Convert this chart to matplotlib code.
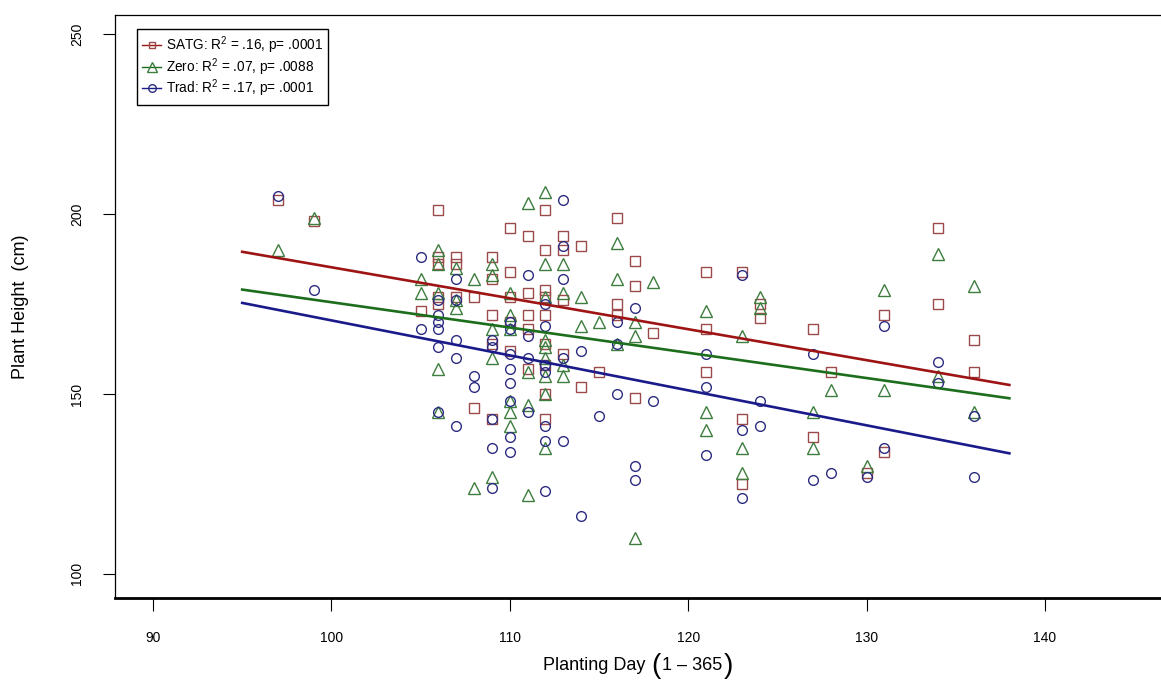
import matplotlib
matplotlib.use('Agg')
import matplotlib.pyplot as plt
from matplotlib.offsetbox import TextArea, HPacker, AnchoredOffsetbox

plt.rcParams['font.family'] = ['Liberation Sans', 'DejaVu Sans']
plt.rcParams['mathtext.fontset'] = 'custom'
plt.rcParams['mathtext.rm'] = 'Liberation Sans'
plt.rcParams['mathtext.it'] = 'Liberation Sans:italic'

# planting day -> plant heights
satg = {
    97: [204], 99: [198], 105: [173],
    106: [201, 188, 186, 177, 175], 107: [188, 186, 177], 108: [177, 146],
    109: [188, 182, 172, 164, 143], 110: [196, 184, 177, 170, 162],
    111: [194, 178, 172, 168, 157],
    112: [201, 190, 179, 177, 172, 164, 158, 150, 143],
    113: [194, 190, 176, 161], 114: [191, 152], 115: [156],
    116: [199, 175, 172], 117: [187, 180, 149], 118: [167],
    121: [184, 168, 156], 123: [184, 143, 125], 124: [175, 171],
    127: [168, 138], 128: [156], 130: [128], 131: [172, 134],
    134: [196, 175], 136: [165, 156],
}
zero = {
    97: [190], 99: [199], 105: [182, 178],
    106: [190, 186, 178, 157, 145], 107: [185, 176, 174], 108: [182, 124],
    109: [186, 183, 168, 160, 127], 110: [178, 172, 168, 148, 145, 141],
    111: [203, 156, 147, 122],
    112: [206, 186, 177, 165, 163, 160, 155, 150, 135],
    113: [186, 178, 158, 155], 114: [177, 169], 115: [170],
    116: [192, 182, 164], 117: [170, 166, 110], 118: [181],
    121: [173, 145, 140], 123: [166, 135, 128], 124: [177, 174],
    127: [145, 135], 128: [151], 130: [130], 131: [179, 151],
    134: [189, 155], 136: [180, 145],
}
trad = {
    97: [205], 99: [179], 105: [188, 168],
    106: [176, 172, 170, 168, 163, 145], 107: [182, 176, 165, 160, 141],
    108: [155, 152], 109: [165, 163, 143, 135, 124],
    110: [170, 168, 161, 157, 153, 148, 138, 134],
    111: [183, 166, 160, 145], 112: [175, 169, 158, 156, 141, 137, 123],
    113: [204, 191, 182, 160, 137], 114: [162, 116], 115: [144],
    116: [170, 164, 150], 117: [174, 130, 126], 118: [148],
    121: [161, 152, 133], 123: [183, 140, 121], 124: [148, 141],
    127: [161, 126], 128: [128], 130: [127], 131: [169, 135],
    134: [159, 153], 136: [144, 127],
}

# fitted lines (end points)
fit_x = [95, 138]
fit_satg = [189.5, 152.5]
fit_zero = [179.0, 148.8]
fit_trad = [175.3, 133.5]

labels = [r'SATG: R$^2$ = .16, p= .0001',
          r'Zero: R$^2$ = .07, p= .0088',
          r'Trad: R$^2$ = .17, p= .0001']


def flat(d):
    xs, ys = [], []
    for k, v in d.items():
        for h in v:
            xs.append(k)
            ys.append(h)
    return xs, ys


fig = plt.figure(figsize=(11.61, 6.88), dpi=100)
ax = fig.add_axes([115 / 1161, 1 - 598 / 688, 1046 / 1161, 583 / 688])

pt_cols = ['#9a4a4a', '#3d7d3d', '#2c2c82']
ln_cols = ['#9e1414', '#1c6e1c', '#1a1a8a']
markers = ['s', '^', 'o']
sizes = [6.5, 8, 7]

for d, c, m, s in zip([satg, zero, trad], pt_cols, markers, sizes):
    xs, ys = flat(d)
    ax.plot(xs, ys, linestyle='none', marker=m, ms=s, mfc='none',
            mec=c, mew=1.0)

for fy, c in zip([fit_satg, fit_zero, fit_trad], ln_cols):
    ax.plot(fit_x, fy, color=c, lw=1.9)

# legend handles
handles = []
for pc, lc, m, s in zip(pt_cols, ln_cols, markers, sizes):
    h, = ax.plot([], [], color=lc, lw=1.0, marker=m, ms=s - 1.5,
                 mfc='none', mec=pc)
    handles.append(h)
leg = ax.legend(handles, labels, loc='upper left',
                bbox_to_anchor=(0.021, 0.976), borderaxespad=0,
                fontsize=9.8, frameon=True, fancybox=False, framealpha=1,
                edgecolor='black', handlelength=1.35, handletextpad=0.35,
                labelspacing=0.0, borderpad=0.4)
leg.get_frame().set_linewidth(1.0)

ax.set_xlim(87.87, 146.5)
ax.set_ylim(93.3, 255.3)
ax.set_xticks([90, 100, 110, 120, 130, 140])
ax.set_yticks([100, 150, 200, 250])
ax.tick_params(direction='out', length=9, width=0.8, labelsize=10, pad=15)
ax.tick_params(axis='y', pad=13)
for lab in ax.get_yticklabels():
    lab.set_rotation(90)
    lab.set_va('center')
ax.spines['right'].set_visible(False)
ax.spines['bottom'].set_linewidth(2.0)
for sp in ['left', 'top']:
    ax.spines[sp].set_linewidth(0.9)

# x label with tall parentheses, like R plotmath
parts = [TextArea('Planting Day ', textprops=dict(fontsize=13)),
         TextArea('(', textprops=dict(fontsize=20)),
         TextArea('1 \u2013 365', textprops=dict(fontsize=13)),
         TextArea(')', textprops=dict(fontsize=20))]
xlab = HPacker(children=parts, align='center', pad=0, sep=1)
box = AnchoredOffsetbox(loc='center', child=xlab, frameon=False,
                        bbox_to_anchor=(638 / 1161, 1 - 666 / 688),
                        bbox_transform=fig.transFigure, borderpad=0, pad=0)
fig.add_artist(box)

ax.set_ylabel('Plant Height  (cm)', fontsize=13, labelpad=30)

fig.savefig('out.png', dpi=100)
